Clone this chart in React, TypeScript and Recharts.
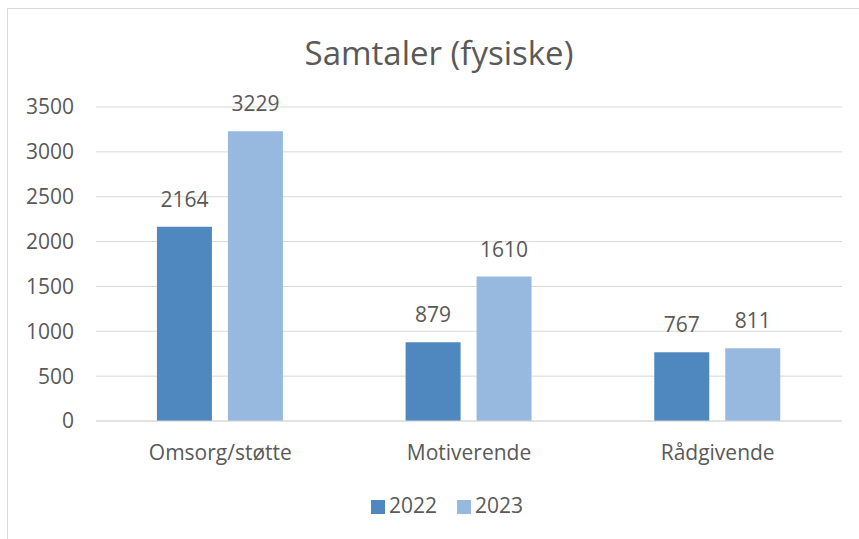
import { BarChart, Bar, XAxis, YAxis, CartesianGrid, Legend, LabelList } from 'recharts'

const categories = ['Omsorg/støtte', 'Motiverende', 'Rådgivende']
const values2022 = [2164, 879, 767]
const values2023 = [3229, 1610, 811]
const yTicks = [0, 500, 1000, 1500, 2000, 2500, 3000, 3500]

const data = categories.map((name, i) => ({ name, y2022: values2022[i], y2023: values2023[i] }))

const font = '"Open Sans", sans-serif'
const textColor = '#595959'

export default function App() {
  return (
    <div style={{ position: 'absolute', left: 0, top: 0, width: 859, height: 539, overflow: 'hidden', background: '#fff', fontFamily: font }}>
      {/* chart frame, runs off the right and bottom edges */}
      <div style={{ position: 'absolute', left: 7, top: 8, width: 900, height: 600, border: '1px solid #d9d9d9', boxSizing: 'border-box' }} />
      <div style={{ position: 'absolute', left: 0, top: 30, width: 878, textAlign: 'center', fontSize: 33, color: textColor }}>
        Samtaler (fysiske)
      </div>
      <div style={{ position: 'absolute', left: 0, top: 0 }}>
        <BarChart width={859} height={539} data={data} margin={{ top: 107, right: 17, bottom: 22, left: 0 }} barGap={16} barCategoryGap="24.5%">
          <CartesianGrid stroke="#d9d9d9" vertical={false} />
          <XAxis dataKey="name" tickLine={false} axisLine={{ stroke: '#d9d9d9' }} tick={{ fill: textColor, fontSize: 21, fontFamily: font }} tickMargin={18} height={72} />
          <YAxis width={96} domain={[0, 3500]} ticks={yTicks} tickLine={false} axisLine={false} tick={{ fill: textColor, fontSize: 21, fontFamily: font }} tickMargin={16} />
          <Legend
            verticalAlign="bottom"
            iconType="square"
            iconSize={14}
            wrapperStyle={{ fontSize: 21, fontFamily: font, color: textColor, paddingLeft: 36, lineHeight: '24px' }}
            formatter={(v) => <span style={{ color: textColor, marginRight: 10 }}>{v}</span>}
          />
          <Bar dataKey="y2022" name="2022" fill="#4f88be" isAnimationActive={false}>
            <LabelList dataKey="y2022" position="top" offset={20} fill={textColor} fontSize={21} fontFamily={font} />
          </Bar>
          <Bar dataKey="y2023" name="2023" fill="#97b9e0" isAnimationActive={false}>
            <LabelList dataKey="y2023" position="top" offset={20} fill={textColor} fontSize={21} fontFamily={font} />
          </Bar>
        </BarChart>
      </div>
    </div>
  )
}
